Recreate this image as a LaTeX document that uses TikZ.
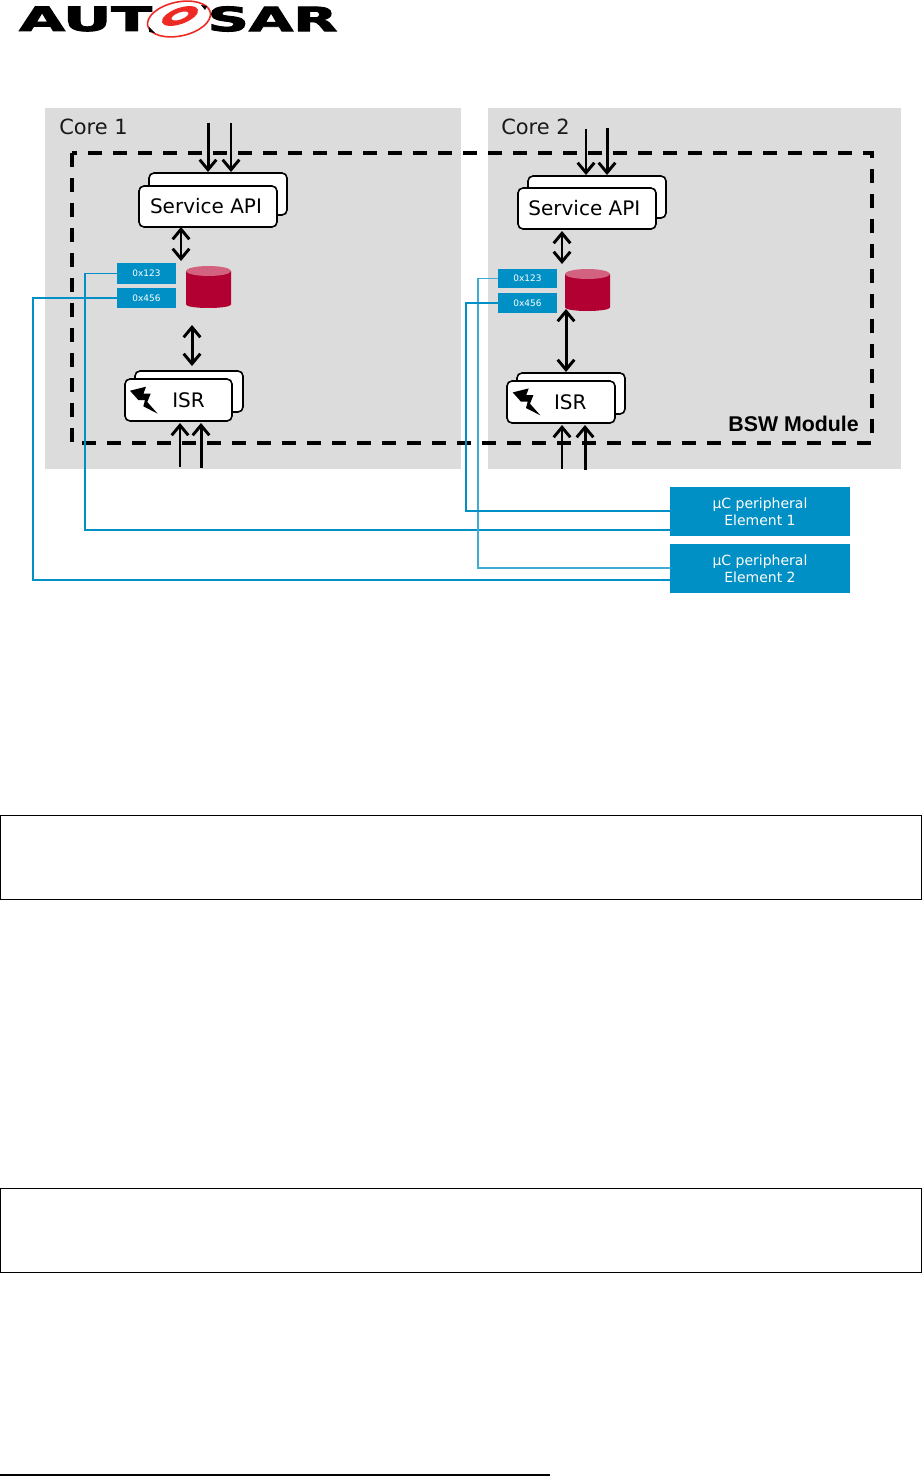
\documentclass[tikz,border=0pt]{standalone}
\usepackage{fontspec}
\setmainfont{DejaVu Sans}
\newfontfamily\arialfont{Liberation Sans}
\newfontfamily\logofont[FakeBold=2.5]{DejaVu Sans Bold}
\usetikzlibrary{arrows.meta}
\def\px{0.75pt}
\definecolor{coregray}{HTML}{DCDCDC}
\definecolor{asblue}{HTML}{0090C5}
\definecolor{asred}{HTML}{B20033}
\definecolor{asredtop}{HTML}{D2627F}
\definecolor{logored}{HTML}{EE2A24}
\tikzset{
  sized/.style 2 args={minimum width=#1*\px,minimum height=#2*\px,inner sep=0pt,outer sep=0pt},
  corebox/.style={fill=coregray,draw=none},
  corelabel/.style={inner sep=0pt,font=\fontsize{15.7pt}{18pt}\selectfont,text=black!90},
  whitebox/.style={fill=white,draw=black,line width=1.6*\px,rounded corners=5*\px,font=\fontsize{15pt}{18pt}\selectfont},
  regbox/.style={sized={59}{#1},fill=asblue,text=white,font=\fontsize{6.7pt}{8pt}\selectfont},
  periph/.style={sized={180}{49},fill=asblue,text=white,align=center,font=\fontsize{10.5pt}{12.7pt}\selectfont},
  dbase/.style={sized={45}{42},draw=none},
  bar/.style={-{Straight Barb[length=7.5pt,width=12.5pt,line width=2.2pt]},line width=#1*\px},
  dbar/.style={{Straight Barb[length=7.5pt,width=12.5pt,line width=2.2pt]}-{Straight Barb[length=7.5pt,width=12.5pt,line width=2.2pt]},line width=#1*\px},
  wire/.style={draw=asblue,line width=1.8*\px},
  thinwire/.style={draw=asblue!75,line width=1.2*\px},
  modline/.style={draw=black,line width=3.2*\px,dash pattern=on 14*\px off 11*\px},
  pagebox/.style={draw=black,line width=1*\px,fill=none},
  logotext/.style={inner sep=0pt,font=\logofont\fontsize{25pt}{25pt}\selectfont},
}
\newcommand{\asbolt}[2]{\fill[black,shift={(#1,#2)}] (0,0.7)--(16,-3.3)--(13.5,3.5)--(20.7,3.5)--(17.3,12)--(27.7,23.7)--(13.3,16.3)--(15,10)--(8.3,10)--cycle;}
\newcommand{\asdb}[2]{%
  \fill[asred,shift={(#1,#2)}] (-22.5,-16) -- (-22.5,17.5) arc[start angle=180,end angle=0,x radius=22.5,y radius=3.5] -- (22.5,-16) -- cycle;
  \fill[asredtop,shift={(#1,#2)}] (0,-16) ellipse [x radius=22.5,y radius=5];}
\begin{document}
\begin{tikzpicture}[x=0.75pt,y=-0.75pt]
\useasboundingbox (0,0) rectangle (922,1477);
\fill[white] (0,0) rectangle (922,1477);
% logo
\node[logotext] (logoa) at (85.5,19) {\scalebox{1.78}[1]{AUT}};
\node[logotext] (logob) at (272.5,19) {\scalebox{1.72}[1]{SAR}};
\draw[logored,line width=1.6*\px,rotate around={12:(179,19)}] (179,19) ellipse [x radius=32,y radius=17];
\fill[logored,even odd rule,rotate around={20:(180,16)}] (180,16) ellipse [x radius=19,y radius=8] (180,16) ellipse [x radius=9,y radius=3.5];
\fill[black] (149,27)--(155,33)--(149,32)--cycle (201,5)--(205,10)--(207,6)--cycle;
% cores
\node[corebox,sized={416}{361}] (core1) at (253,288.5) {};
\node[corebox,sized={413}{361}] (core2) at (694.5,288.5) {};
\node[corelabel,anchor=west] (core1l) at (59,127) {Core 1};
\node[corelabel,anchor=west] (core2l) at (501,127) {Core 2};
% module
\node[draw=none,sized={800}{290}] (module) at (472,298) {};
\draw[modline] (module.north west) rectangle (module.south east);
\node[inner sep=0pt,anchor=east,font=\arialfont\bfseries\fontsize{16pt}{18pt}\selectfont] (bsw) at (859,424) {BSW Module};
% Service API
\node[whitebox,sized={138}{42}] (s1b) at (218,194) {};
\node[whitebox,sized={138}{41}] (s1) at (208,206.5) {\hspace*{-3pt}Service API};
\node[whitebox,sized={138}{42}] (s2b) at (597,197) {};
\node[whitebox,sized={138}{41}] (s2) at (587,208.5) {\hspace*{-4pt}Service API};
% registers
\node[regbox=21] (r1a) at (146.5,273.5) {0x123};
\node[regbox=20] (r1b) at (146.5,298) {0x456};
\node[regbox=19] (r2a) at (527.5,278.5) {0x123};
\node[regbox=20] (r2b) at (527.5,303) {0x456};
% databases
\node[dbase] (db1) at (208.5,287) {};
\asdb{208.5}{287}
\node[dbase] (db2) at (587.5,290) {};
\asdb{587.5}{290}
% ISR
\node[whitebox,sized={108}{41}] (i1b) at (189,391.5) {};
\node[whitebox,sized={107}{42}] (i1) at (178.5,400) {\hspace*{15pt}ISR};
\asbolt{130}{390}
\node[whitebox,sized={108}{41}] (i2b) at (571,393.5) {};
\node[whitebox,sized={108}{42}] (i2) at (561,402) {\hspace*{14pt}ISR};
\asbolt{512.7}{391.7}
% peripherals
\node[periph] (p1) at (760,511.5) {µC peripheral\\Element 1};
\node[periph] (p2) at (760,568.5) {µC peripheral\\Element 2};
% free ends
\coordinate (t1a) at (208,123);
\coordinate (t1b) at (231,123);
\coordinate (t2a) at (586,129);
\coordinate (t2b) at (607,128);
\coordinate (b1a) at (180,467);
\coordinate (b1b) at (201,468);
\coordinate (b2a) at (562,469);
\coordinate (b2b) at (585,470);
\coordinate (d1a) at (181,261);
\coordinate (d2a) at (562,264);
\coordinate (d1b) at (192,325);
\coordinate (d2b) at (566,372);
% arrows
\draw[bar=3] (t1a) -- ([yshift=1*\px]t1a |- s1b.north);
\draw[bar=2] (t1b) -- ([yshift=1*\px]t1b |- s1b.north);
\draw[bar=2] (t2a) -- ([yshift=1*\px]t2a |- s2b.north);
\draw[bar=3] (t2b) -- ([yshift=1*\px]t2b |- s2b.north);
\draw[bar=2] (b1a) -- ([yshift=-2*\px]b1a |- i1.south);
\draw[bar=3] (b1b) -- ([yshift=-2*\px]b1b |- i1.south);
\draw[bar=2] (b2a) -- ([yshift=-2*\px]b2a |- i2.south);
\draw[bar=3] (b2b) -- ([yshift=-2*\px]b2b |- i2.south);
\draw[dbar=2.5] (d1a) -- (d1a |- s1.south);
\draw[dbar=2.5] (d2a) -- ([yshift=-2*\px]d2a |- s2.south);
\draw[dbar=3] (d1b) -- ([yshift=5*\px]d1b |- i1b.north);
\draw[dbar=3] ([yshift=2*\px]d2b |- db2.south) -- (d2b);
% wires
\coordinate (k1) at (85,530);
\coordinate (k2) at (33,580);
\coordinate (k3) at (478,568);
\coordinate (k4) at (466,511);
\draw[wire] (r1a.west) -| (k1) -- (k1 -| p1.west);
\draw[wire] (r1b.west) -| (k2) -- (k2 -| p2.west);
\draw[thinwire] (r2a.west) -| (k3) -- (k3 -| p2.west);
\draw[wire] (r2b.west) -| (k4) -- (k4 -| p1.west);
% page boxes
\node[pagebox,sized={921}{84}] (note1) at (460.5,857) {};
\node[pagebox,sized={921}{84}] (note2) at (460.5,1230) {};
\coordinate (fn1) at (0,1475);
\coordinate (fn2) at (550,1475);
\draw[black,line width=1.2*\px] (fn1) -- (fn2);
\end{tikzpicture}
\end{document}
